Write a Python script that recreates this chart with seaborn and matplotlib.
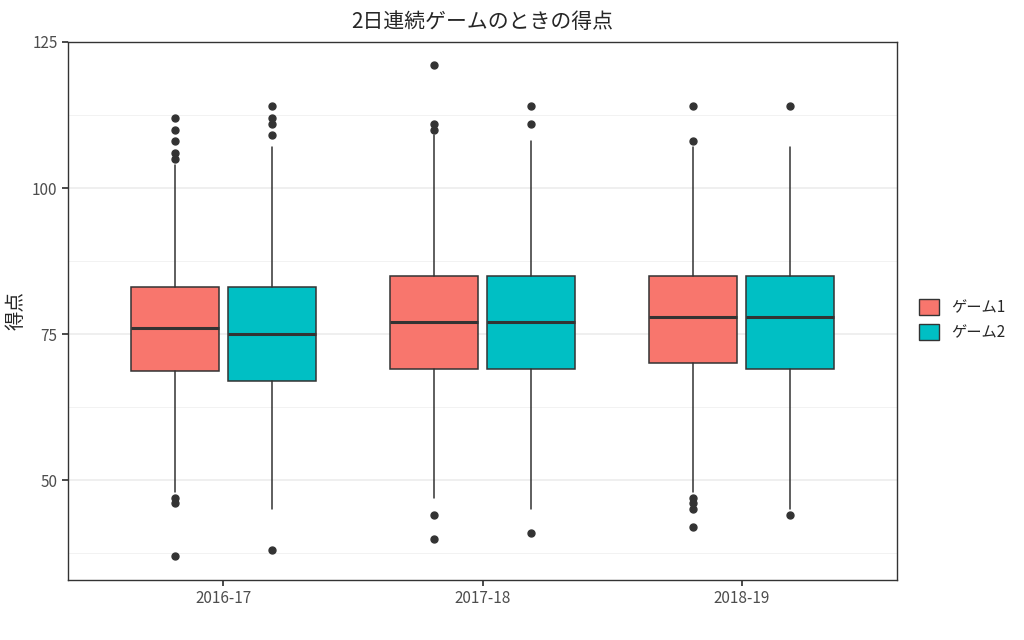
import matplotlib
matplotlib.use("Agg")
import matplotlib.pyplot as plt
import seaborn as sns
from matplotlib.patches import Patch

seasons = ["2016-17", "2017-18", "2018-19"]
games = ["ゲーム1", "ゲーム2"]
colors = ["#F8766D", "#00BFC4"]
# per season, per game: [whislo, q1, med, q3, whishi]
g1_stats = [[48, 68.75, 76, 83, 104], [47, 69, 77, 85, 109], [48, 70, 78, 85, 107]]
g2_stats = [[45, 67, 75, 83, 107], [45, 69, 77, 85, 108], [45, 69, 78, 85, 107]]
g1_fliers = [[112, 110, 108, 106, 105, 47, 46, 37], [121, 111, 110, 44, 40], [114, 108, 47, 46, 45, 42]]
g2_fliers = [[114, 112, 111, 109, 38], [114, 111, 41], [114, 44]]

sns.set_theme(style="white", font="Noto Sans CJK JP")
fig = plt.figure(figsize=(10.24, 6.4), dpi=100)
ax = fig.add_axes([68/1024, 60/640, (897-68)/1024, (580-42)/640])

for gi, (stats, fl) in enumerate([(g1_stats, g1_fliers), (g2_stats, g2_fliers)]):
    bx = []
    for s, f in zip(stats, fl):
        bx.append(dict(whislo=s[0], q1=s[1], med=s[2], q3=s[3], whishi=s[4], fliers=f))
    pos = [i + (-0.1875 if gi == 0 else 0.1875) for i in range(len(seasons))]
    ax.bxp(bx, positions=pos, widths=0.34, patch_artist=True, showcaps=False,
           boxprops=dict(facecolor=colors[gi], edgecolor="#333333", linewidth=1.1),
           medianprops=dict(color="#333333", linewidth=2.2),
           whiskerprops=dict(color="#333333", linewidth=1.1),
           flierprops=dict(marker="o", markerfacecolor="#333333", markeredgecolor="#333333", markersize=5),
           manage_ticks=False)

ax.set_xlim(-0.6, 2.6)
ax.set_ylim(32.9, 125)
ax.set_xticks(range(3))
ax.set_xticklabels(seasons, fontsize=11, color="#4D4D4D")
ax.set_yticks([50, 75, 100, 125])
ax.set_yticklabels(["50", "75", "100", "125"], fontsize=11, color="#4D4D4D")
for y in [37.5, 62.5, 87.5, 112.5]:
    ax.axhline(y, color="#F0F0F0", lw=0.6, zorder=0)
for y in [50, 75, 100, 125]:
    ax.axhline(y, color="#EBEBEB", lw=1.1, zorder=0)
ax.tick_params(axis="both", length=4, color="#333333", bottom=True, left=True)
for sp in ax.spines.values():
    sp.set_color("#333333"); sp.set_linewidth(1)
ax.set_ylabel("得点", fontsize=14)
ax.set_xlabel("")
ax.set_title("2日連続ゲームのときの得点", fontsize=15, pad=10)
handles = [Patch(facecolor=c, edgecolor="#333333", label=g) for c, g in zip(colors, games)]
fig.legend(handles=handles, loc="center left", bbox_to_anchor=(905/1024, 0.5), frameon=False, fontsize=11,
           handlelength=1.3, handleheight=1.3)
fig.savefig("out.png", dpi=100)
